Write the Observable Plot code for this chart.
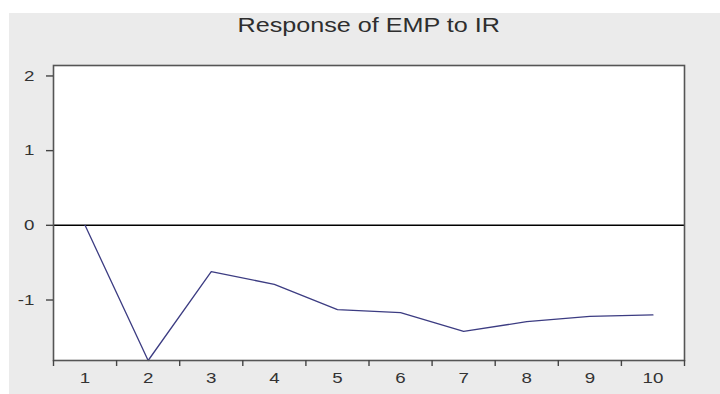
<!DOCTYPE html>
<html>
<head>
<meta charset="utf-8">
<script src="https://cdn.jsdelivr.net/npm/d3@7"></script>
<script src="https://cdn.jsdelivr.net/npm/@observablehq/plot@0.6"></script>
<style>
  html, body { margin: 0; padding: 0; background: #ffffff; }
  #panel { position: absolute; left: 9px; top: 13px; width: 711px; height: 381px; background: #ebebeb; overflow: hidden; }
  #title { position: absolute; left: 4px; top: 3px; width: 711px; text-align: center;
           font-family: Arial, "Liberation Sans", sans-serif; font-size: 19.5px; line-height: 1; color: #2e2e2e; }
  #title span { display: inline-block; transform: scaleX(1.29); }
  #plot { position: absolute; left: 0; top: 37px; }
</style>
</head>
<body>
<div id="panel">
  <div id="title"><span>Response of EMP to IR</span></div>
  <div id="plot"></div>
</div>
<script>
// Impulse response of EMP to a shock in IR, periods 1–10
const periods = [1, 2, 3, 4, 5, 6, 7, 8, 9, 10];
const response = [0, -1.81, -0.62, -0.79, -1.13, -1.17, -1.42, -1.29, -1.22, -1.20];
const yTicks = [-1, 0, 1, 2];
const yRange = [-1.81, 2.14];

const rows = periods.map((p, i) => ({period: p, value: response[i]}));
// tick marks sit between the period labels
const periodEdges = [...periods.map(p => p - 0.5), periods[periods.length - 1] + 0.5];

const chart = Plot.plot({
  width: 711,
  height: 344,
  marginTop: 15,
  marginRight: 36,
  marginBottom: 34,
  marginLeft: 44,
  style: {background: "transparent", fontFamily: "Arial, 'Liberation Sans', sans-serif", fontSize: "15px", color: "#333", overflow: "visible"},
  x: {domain: [periodEdges[0], periodEdges[periodEdges.length - 1]], label: null},
  y: {domain: yRange, label: null},
  marks: [
    Plot.frame({fill: "white", stroke: "none"}),
    Plot.ruleY([0], {stroke: "#000", strokeWidth: 1.6}),
    Plot.line(rows, {x: "period", y: "value", stroke: "#3c3c82", strokeWidth: 1.3}),
    Plot.frame({stroke: "#555", strokeWidth: 1.6}),
    Plot.axisY(yTicks, {tickSize: 7, tickPadding: 12, tickFormat: d => String(d), stroke: "#444", strokeWidth: 1.4, label: null}),
    Plot.axisX(periodEdges, {tickSize: 6, tickFormat: () => "", stroke: "#444", strokeWidth: 1.4, label: null}),
    Plot.axisX(periods, {tickSize: 0, tickPadding: 12, tickFormat: d => String(d), label: null})
  ]
});

// widen tick labels horizontally to the proportions of the original type
chart.querySelectorAll("text").forEach(el => {
  let tr = el.getAttribute("transform") || "";
  const xa = el.getAttribute("x");
  if (xa !== null && isFinite(+xa)) {
    el.removeAttribute("x");
    tr += ` translate(${+xa},0)`;
  }
  el.setAttribute("transform", `${tr} scale(1.25,1)`);
});

document.getElementById("plot").appendChild(chart);
</script>
</body>
</html>
